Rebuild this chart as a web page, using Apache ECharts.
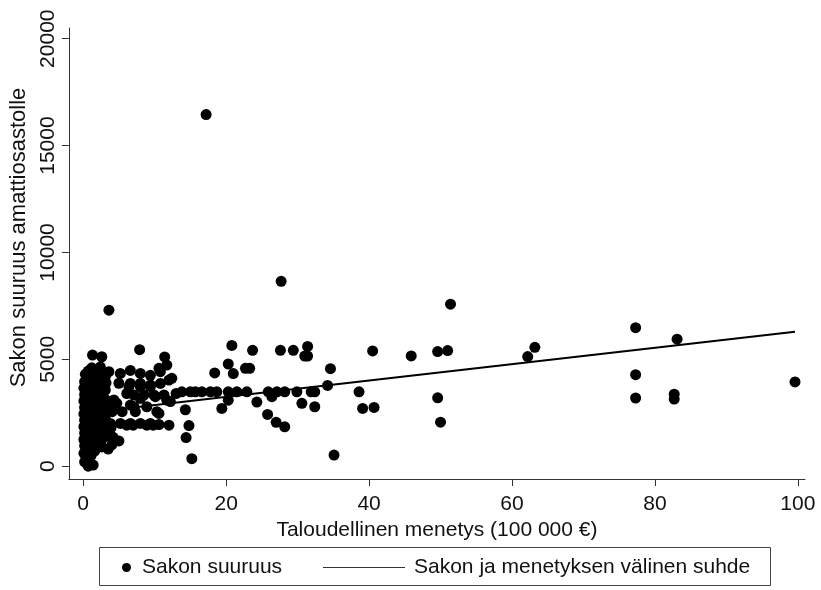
<!DOCTYPE html>
<html>
<head>
<meta charset="utf-8">
<script src="https://cdn.jsdelivr.net/npm/echarts@6/dist/echarts.min.js"></script>
<style>
html,body{margin:0;padding:0;background:#fff;}
#chart{width:821px;height:590px;}
</style>
</head>
<body>
<div id="chart"></div>
<script>
// ---- data ----
var seriesNames = ['Sakon suuruus', 'Sakon ja menetyksen välinen suhde'];
var xTicks = [0, 20, 40, 60, 80, 100];
var yTicks = [0, 5000, 10000, 15000, 20000];
var xTitle = 'Taloudellinen menetys (100 000 €)';
var yTitle = 'Sakon suuruus amattiosastolle';

// dense cluster near zero loss
var clusterLeft = [
  [0.2,200],[0.7,0],[1.4,50],
  [0.1,600],[0.2,950],[0.1,1250],[0.2,1550],[0.1,1850],[0.2,2150],[0.1,2450],[0.2,2750],[0.1,3050],[0.2,3350],[0.1,3650],[0.2,3950],[0.3,4300],
  [0.6,400],[0.7,750],[0.6,1100],[0.7,1400],[0.6,1700],[0.7,2000],[0.6,2300],[0.7,2600],[0.6,2900],[0.7,3200],[0.6,3500],[0.7,3800],[0.6,4100],[0.7,4450],
  [1.1,500],[1.2,850],[1.1,1250],[1.2,1600],[1.1,1900],[1.2,2200],[1.1,2500],[1.2,2800],[1.1,3100],[1.2,3400],[1.1,3700],[1.2,4000],[1.1,4300],[1.2,4600],[1.3,5200],
  [1.6,700],[1.7,1000],[1.6,1350],[1.7,1700],[1.6,2050],[1.7,2350],[1.6,2650],[1.7,2950],[1.6,3250],[1.7,3550],[1.6,3850],[1.7,4150],[1.6,4450],
  [2.1,1100],[2.2,1450],[2.1,1800],[2.2,2150],[2.1,2450],[2.2,2750],[2.1,3050],[2.2,3350],[2.1,3650],[2.2,3950],[2.1,4250],[2.4,4650],
  [2.6,900],[2.7,1300],[2.6,1650],[2.7,2000],[2.6,2300],[2.7,2600],[2.6,2900],[2.7,3200],[2.6,3500],[2.7,3800],[2.6,4100],[2.7,4400],[2.6,5120],
  [3.1,1400],[3.2,1800],[3.1,2200],[3.2,2500],[3.1,2800],[3.2,3100],[3.1,3560],[3.2,3900],[3.1,4200]
];

var clusterMid = [
  [3.6,7300],[7.9,5450],[11.4,5110],[11.7,4730],[10.6,4580],[3.6,4420],[5.2,4340],[6.6,4480],[8.0,4340],[9.4,4250],[10.8,4420],[12.0,4030],[12.4,4110],
  [5.0,3880],[6.6,3870],[8.0,3870],[9.4,3800],[10.8,3870],[6.4,3720],[8.0,3720],[9.4,3720],
  [6.1,3400],[7.1,3330],[8.5,3330],[9.9,3330],[11.3,3330],[13.0,3400],
  [8.0,3170],[10.1,3250],[11.7,3090],[12.2,3020],[4.3,3100],
  [4.7,2940],[6.6,2860],[7.1,2780],[8.9,2780],[3.6,2700],
  [4.05,2550],[5.45,2550],[7.3,2550],[10.3,2550],[10.6,2470],
  [3.8,2000],[5.2,2000],[6.1,1920],[6.6,2000],[7.0,1920],[8.0,2000],[8.9,1920],[9.4,2000],[9.8,1920],[10.6,1950],[12.0,1920],
  [3.9,1800],[3.5,1500],[4.2,1350],[5.0,1180],[4.0,1000],[3.5,800]
];

var scatterRest = [
  [17.2,16450],[27.7,8650],
  [20.8,5650],[23.7,5420],[27.6,5420],[29.4,5420],[31.4,5600],[31.0,5150],[31.4,5150],[40.5,5390],
  [20.3,4780],[22.7,4580],[23.3,4580],[18.4,4360],[21.0,4330],[34.6,4560],[34.2,3780],
  [13.8,3480],[15.0,3480],[15.7,3480],[16.6,3480],[17.8,3480],[18.7,3480],[20.3,3480],[21.5,3480],[22.9,3480],
  [25.9,3480],[27.1,3480],[28.2,3480],[29.9,3480],[31.9,3480],[32.4,3480],[38.6,3480],
  [14.3,2640],[19.4,2700],[20.3,3090],[24.3,3000],[26.4,3250],[30.6,2940],[32.4,2780],[39.1,2700],[40.7,2750],
  [25.8,2420],[27.0,2050],[28.2,1840],[14.8,1900],[14.4,1340],[15.2,350],[35.1,520],
  [51.4,7580],[45.9,5160],[49.6,5360],[51.0,5410],[62.2,5130],[63.2,5560],[77.3,6480],[83.1,5940],
  [77.3,4280],[49.6,3200],[50.0,2060],[77.3,3190],[82.7,3370],[82.7,3140],[99.6,3940]
];

var fitLine = [[0, 2480], [99.6, 6285]];

var scatterData = clusterLeft.concat(clusterMid, scatterRest);

var FONT = '"Liberation Sans", Arial, sans-serif';
var chart = echarts.init(document.getElementById('chart'), null, {renderer: 'canvas'});

chart.setOption({
  backgroundColor: '#ffffff',
  animation: false,
  grid: {left: 67, right: 16, top: 28, bottom: 111, containLabel: false},
  xAxis: {
    type: 'value', min: -2, max: 101,
    name: xTitle, nameLocation: 'middle', nameGap: 31,
    nameTextStyle: {color: '#111', fontFamily: FONT, fontSize: 21},
    axisLine: {show: true, onZero: false, lineStyle: {color: '#333', width: 1}},
    axisTick: {show: true, length: 7, customValues: xTicks, lineStyle: {color: '#333'}},
    axisLabel: {customValues: xTicks, color: '#111', fontFamily: FONT, fontSize: 21, margin: 15,
      formatter: function (v) { return String(v); }},
    splitLine: {show: false}
  },
  yAxis: {
    type: 'value', min: -600, max: 20500,
    name: yTitle, nameLocation: 'middle', nameGap: 38, nameRotate: 90,
    nameTextStyle: {color: '#111', fontFamily: FONT, fontSize: 22, padding: [0, 0, 0, 32]},
    axisLine: {show: true, onZero: false, lineStyle: {color: '#333', width: 1}},
    axisTick: {show: true, length: 7, customValues: yTicks, lineStyle: {color: '#333'}},
    axisLabel: {customValues: yTicks, rotate: 90, color: '#111', fontFamily: FONT, fontSize: 21, margin: 10,
      formatter: function (v) { return String(v); }},
    splitLine: {show: false}
  },
  legend: [
    {
      data: [{name: seriesNames[0], icon: 'circle'}],
      left: 117, top: 552, itemWidth: 9, itemHeight: 9,
      textStyle: {color: '#111', fontFamily: FONT, fontSize: 21, padding: [0, 0, 0, 6]},
      selectedMode: false
    },
    {
      data: [{name: seriesNames[1], icon: 'rect'}],
      left: 318, top: 552, itemWidth: 82, itemHeight: 1,
      itemStyle: {color: '#333'},
      textStyle: {color: '#111', fontFamily: FONT, fontSize: 21, padding: [0, 0, 0, 4]},
      selectedMode: false
    }
  ],
  graphic: [{
    type: 'rect', left: 97, top: 545, silent: true,
    shape: {width: 671, height: 38},
    style: {fill: 'none', stroke: '#444', lineWidth: 1}
  }],
  series: [
    {
      name: seriesNames[0], type: 'scatter', data: scatterData,
      symbol: 'circle', symbolSize: 11,
      itemStyle: {color: '#000', opacity: 1}
    },
    {
      name: seriesNames[1], type: 'line', data: fitLine,
      showSymbol: false, symbol: 'none',
      lineStyle: {color: '#000', width: 2},
      z: 3
    }
  ]
});
</script>
</body>
</html>
